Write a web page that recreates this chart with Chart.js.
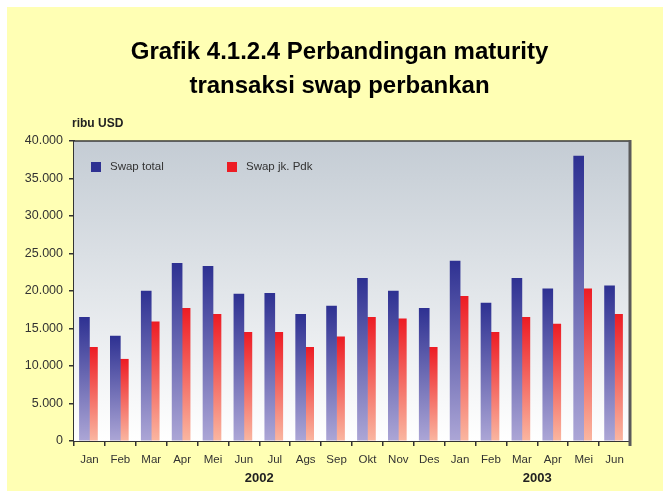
<!DOCTYPE html>
<html>
<head>
<meta charset="utf-8">
<script src="https://cdn.jsdelivr.net/npm/chart.js@4/dist/chart.umd.min.js"></script>
<style>
  body { margin: 0; background: #fff; }
  #chart { position: absolute; left: 7px; top: 7px; background: #ffffb4; }
</style>
</head>
<body>
<canvas id="chart" width="656" height="484"></canvas>
<script>
const months = ['Jan', 'Feb', 'Mar', 'Apr', 'Mei', 'Jun', 'Jul', 'Ags', 'Sep', 'Okt', 'Nov', 'Des',
                'Jan', 'Feb', 'Mar', 'Apr', 'Mei', 'Jun'];
const swapTotal = [16500, 14000, 20000, 23700, 23300, 19600, 19700, 16900, 18000, 21700, 20000, 17700,
                   24000, 18400, 21700, 20300, 38000, 20700];
const swapPdk = [12500, 10900, 15900, 17700, 16900, 14500, 14500, 12500, 13900, 16500, 16300, 12500,
                 19300, 14500, 16500, 15600, 20300, 16900];
const years = ['2002', '2003'];
const yearSpans = [[0, 11], [12, 17]];
const titleLines = ['Grafik 4.1.2.4 Perbandingan maturity', 'transaksi swap perbankan'];

const font = '"Liberation Sans", Arial, sans-serif';

// each bar gets its own top-to-bottom gradient
function barFill(top, bottom) {
    return function(c) {
        const y = c.chart.scales.y;
        if (c.type !== 'data' || !y) return top;
        const y0 = y.getPixelForValue(c.raw), y1 = y.getPixelForValue(0);
        if (!isFinite(y0) || !isFinite(y1) || y0 === y1) return top;
        const g = c.chart.ctx.createLinearGradient(0, y0, 0, y1);
        g.addColorStop(0, top);
        g.addColorStop(1, bottom);
        return g;
    };
}

const extras = {
    id: 'extras',
    beforeDatasetsDraw(chart) {
        const { ctx, chartArea: a } = chart;
        const g = ctx.createLinearGradient(0, a.top, 0, a.bottom);
        g.addColorStop(0, '#c4ccd4');
        g.addColorStop(1, '#ffffff');
        ctx.save();
        ctx.fillStyle = g;
        ctx.fillRect(a.left, a.top, a.right - a.left, a.bottom - a.top);
        ctx.restore();
    },
    afterDraw(chart) {
        const { ctx, chartArea: a, scales } = chart;
        ctx.save();
        // frame top and right
        ctx.strokeStyle = '#3a3a3a';
        ctx.lineWidth = 1.5;
        ctx.beginPath();
        ctx.moveTo(a.left, a.top);
        ctx.lineTo(a.right, a.top);
        ctx.stroke();
        ctx.strokeStyle = '#5a5a5a';
        ctx.lineWidth = 3;
        ctx.beginPath();
        ctx.moveTo(a.right, a.top - 1);
        ctx.lineTo(a.right, a.bottom + 5);
        ctx.stroke();

        // title, centred a bit right of the canvas middle like the original
        ctx.fillStyle = '#000';
        ctx.font = 'bold 24px ' + font;
        ctx.textAlign = 'center';
        ctx.textBaseline = 'middle';
        titleLines.forEach((t, i) => ctx.fillText(t, 332.5, 45 + i * 34));

        // legend inside the plot
        const legendX = [84, 220];
        chart.data.datasets.forEach((ds, i) => {
            ctx.fillStyle = ds.legendColor;
            ctx.fillRect(legendX[i], 155, 10, 10);
            ctx.fillStyle = '#333';
            ctx.font = '11.5px ' + font;
            ctx.textAlign = 'left';
            ctx.fillText(ds.label, legendX[i] + 19, 160);
        });

        // unit label
        ctx.fillStyle = '#222';
        ctx.font = 'bold 12px ' + font;
        ctx.textAlign = 'left';
        ctx.fillText('ribu USD', 65, 117);

        // year labels under the months
        ctx.font = 'bold 13px ' + font;
        ctx.textAlign = 'center';
        years.forEach((yr, i) => {
            const [s, e] = yearSpans[i];
            const x = (scales.x.getPixelForValue(s) + scales.x.getPixelForValue(e)) / 2;
            ctx.fillText(yr, x, 471);
        });
        ctx.restore();
    }
};

new Chart(document.getElementById('chart'), {
    type: 'bar',
    data: {
        labels: months,
        datasets: [{
            label: 'Swap total',
            data: swapTotal,
            backgroundColor: barFill('#2e3192', '#aca6d6'),
            legendColor: '#2e3192',
            barThickness: 10
        }, {
            label: 'Swap jk. Pdk',
            data: swapPdk,
            backgroundColor: barFill('#ed1c24', '#fab6a0'),
            legendColor: '#ed1c24',
            barThickness: 8
        }]
    },
    options: {
        responsive: false,
        animation: false,
        layout: { padding: { left: 0, right: 33, top: 134, bottom: 0 } },
        plugins: {
            legend: { display: false },
            tooltip: { enabled: false },
            title: { display: false }
        },
        scales: {
            x: {
                grid: { offset: true, drawOnChartArea: false, tickLength: 5, color: '#333', lineWidth: 1.5 },
                border: { color: '#333', width: 2 },
                ticks: { color: '#333', font: { family: font, size: 11.5 }, padding: 7, maxRotation: 0, autoSkip: false },
                afterFit(s) { s.height = 50; }
            },
            y: {
                min: 0,
                max: 40000,
                grid: { drawOnChartArea: false, tickLength: 5, color: '#333', lineWidth: 1.5 },
                border: { color: '#333', width: 2 },
                ticks: {
                    stepSize: 5000,
                    color: '#333',
                    padding: 6,
                    font: { family: font, size: 12.5 },
                    callback: v => String(v).replace(/\B(?=(\d{3})+(?!\d))/g, '.')
                },
                afterFit(s) { s.width = 67; }
            }
        }
    },
    plugins: [extras]
});
</script>
</body>
</html>
